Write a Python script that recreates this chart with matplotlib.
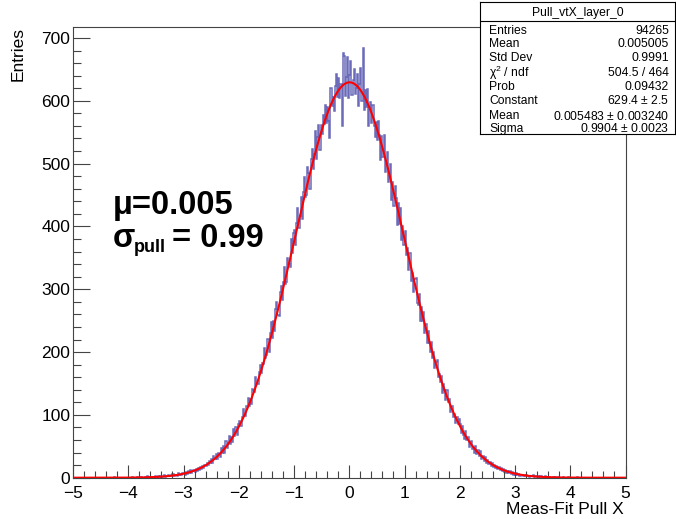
import numpy as np
import matplotlib
matplotlib.use("Agg")
import matplotlib.pyplot as plt
from matplotlib.ticker import MultipleLocator

plt.rcParams['font.family'] = ['Liberation Sans', 'DejaVu Sans']
plt.rcParams['mathtext.default'] = 'regular'

# Pull_vtX_layer_0: 500 bins of width 0.02 on [-5, 5]
x_min, x_max, n_bins = -5.0, 5.0, 500
counts = [
    0, 0, 0, 0, 0, 0, 0, 0, 0, 0, 0, 0, 0, 0, 0, 0, 0, 0, 0, 0, 0, 0, 0, 0, 0,
    0, 0, 0, 0, 0, 0, 0, 0, 0, 0, 0, 0, 1, 0, 0, 0, 0, 0, 0, 0, 0, 0, 0, 0, 0,
    0, 0, 0, 1, 0, 0, 0, 0, 1, 0, 0, 1, 0, 0, 0, 1, 0, 2, 0, 1, 0, 1, 0, 1, 2,
    1, 0, 2, 1, 3, 1, 2, 4, 1, 3, 2, 5, 3, 2, 4, 6, 3, 4, 5, 2, 7, 4, 6, 5, 8,
    8, 5, 9, 6, 10, 7, 12, 8, 11, 13, 9, 14, 11, 15, 13, 17, 14, 19, 16, 21, 18, 24, 20, 27, 23,
    29, 24, 34, 29, 38, 29, 40, 38, 33, 48, 40, 50, 40, 58, 48, 56, 66, 53, 65, 57, 78, 66, 81, 68, 85,
    90, 83, 82, 97, 109, 100, 99, 114, 127, 114, 125, 118, 141, 139, 137, 161, 149, 149, 168, 180, 166, 183, 181, 206, 191,
    195, 221, 200, 230, 248, 222, 250, 233, 268, 280, 259, 257, 295, 305, 283, 312, 336, 309, 312, 350, 340, 336, 380, 357, 390,
    395, 370, 405, 430, 398, 416, 447, 412, 455, 478, 447, 450, 494, 485, 460, 508, 523, 492, 515, 552, 508, 542, 562, 522, 562,
    547, 578, 563, 594, 565, 590, 568, 540, 621, 592, 606, 584, 623, 642, 606, 636, 604, 627, 560, 676, 672, 608, 638, 669, 604,
    641, 663, 610, 633, 651, 611, 620, 642, 592, 626, 652, 600, 684, 585, 617, 590, 618, 560, 590, 598, 564, 594, 560, 542, 566,
    538, 568, 545, 506, 544, 510, 546, 486, 500, 518, 470, 480, 500, 442, 470, 432, 464, 445, 402, 437, 404, 430, 378, 401, 370,
    392, 355, 365, 330, 357, 358, 313, 326, 296, 316, 318, 278, 275, 292, 250, 272, 249, 264, 230, 244, 214, 234, 214, 200, 216,
    191, 200, 174, 184, 187, 160, 165, 153, 162, 135, 149, 139, 124, 139, 120, 126, 104, 114, 114, 96, 101, 87, 96, 85, 93,
    86, 71, 82, 68, 61, 74, 60, 65, 49, 57, 59, 45, 48, 39, 51, 37, 44, 34, 42, 29, 34, 35, 26, 33, 24,
    28, 22, 25, 19, 23, 17, 21, 16, 19, 14, 17, 12, 15, 11, 14, 9, 12, 8, 11, 7, 10, 6, 9, 5, 7,
    5, 7, 4, 6, 3, 5, 4, 2, 5, 3, 4, 2, 3, 1, 3, 2, 4, 1, 2, 3, 1, 2, 0, 2, 1,
    1, 0, 2, 0, 1, 0, 1, 0, 0, 1, 0, 1, 0, 0, 1, 0, 0, 0, 1, 0, 0, 0, 0, 1, 0,
    0, 0, 0, 0, 0, 0, 1, 0, 0, 0, 0, 0, 0, 0, 0, 0, 0, 0, 0, 0, 0, 0, 0, 0, 0,
    0, 0, 0, 0, 0, 0, 0, 0, 0, 0, 0, 0, 0, 0, 0, 0, 0, 0, 0, 0, 0, 0, 0, 0, 0,
]

# gaus fit result
fit_const = 629.4
fit_mean = 0.005483
fit_sigma = 0.9904

stat_labels = ["Entries", "Mean", "Std Dev", r"$\chi^{2}$ / ndf", "Prob",
               "Constant", "Mean", "Sigma"]
stat_values = ["94265", "0.005005", "0.9991", "504.5 / 464", "0.09432",
               "629.4 $\\pm$ 2.5", "0.005483 $\\pm$ 0.003240", "0.9904 $\\pm$ 0.0023"]

edges = np.linspace(x_min, x_max, n_bins + 1)

fig = plt.figure(figsize=(6.76, 5.19), dpi=100)
ax = fig.add_axes([73 / 676, 41.3 / 519, 552.5 / 676, 450.4 / 519])

ax.stairs(counts, edges, color='#4646a8', lw=1.1, alpha=0.8)
xf = np.linspace(x_min, x_max, 1000)
yf = fit_const * np.exp(-0.5 * ((xf - fit_mean) / fit_sigma) ** 2)
ax.plot(xf, yf, color='#ff0000', lw=1.5)

ax.set_xlim(x_min, x_max)
ax.set_ylim(0, 717)
ax.xaxis.set_major_locator(MultipleLocator(1))
ax.xaxis.set_minor_locator(MultipleLocator(0.2))
ax.yaxis.set_major_locator(MultipleLocator(100))
ax.yaxis.set_minor_locator(MultipleLocator(20))
ax.tick_params(axis='x', which='major', direction='in', length=9.7, width=0.8,
               labelsize=12.5, pad=6, colors='#444444', labelcolor='black')
ax.tick_params(axis='x', which='minor', direction='in', length=4.9, width=0.8, colors='#444444')
ax.tick_params(axis='y', which='major', direction='in', length=12, width=0.8,
               labelsize=12.5, pad=2, colors='#444444', labelcolor='black')
ax.tick_params(axis='y', which='minor', direction='in', length=6, width=0.8, colors='#444444')
for s in ax.spines.values():
    s.set_color('#444444')
    s.set_linewidth(0.8)

fig.text(624 / 676, 1 - 509 / 519, 'Meas-Fit Pull X', ha='right', va='center', fontsize=12.5)
fig.text(18 / 676, 1 - 27 / 519, 'Entries', rotation=90, ha='center', va='top', fontsize=12.5)

# mean / width annotation
fig.text(113 / 676, 1 - 214 / 519, '\u03bc=0.005', fontsize=23.5, fontweight='bold', va='baseline')
fig.text(113 / 676, 1 - 247 / 519, '\u03c3', fontsize=23.5, fontweight='bold', va='baseline')
fig.text(134 / 676, 1 - 252 / 519, 'pull', fontsize=13, fontweight='bold', va='baseline')
fig.text(172 / 676, 1 - 247 / 519, '= 0.99', fontsize=23.5, fontweight='bold', va='baseline')

# stats box
box = fig.add_axes([480 / 676, 1 - 134 / 519, 195 / 676, 132 / 519])
box.set_xticks([])
box.set_yticks([])
box.set_xlim(0, 1)
box.set_ylim(0, 1)
for s in box.spines.values():
    s.set_linewidth(0.8)
box.axhline(1 - 19 / 132, color='black', lw=0.8)
box.text(0.5, 1 - 11 / 132, 'Pull_vtX_layer_0', ha='center', va='center', fontsize=8.7)
row_y = [29, 42, 56, 71, 85, 99, 114, 127]
for lab, val, yy in zip(stat_labels, stat_values, row_y):
    box.text(0.046, 1 - yy / 132, lab, ha='left', va='center', fontsize=8.7)
    box.text(0.969, 1 - yy / 132, val, ha='right', va='center', fontsize=8.7)

fig.savefig('out.png', dpi=100)
